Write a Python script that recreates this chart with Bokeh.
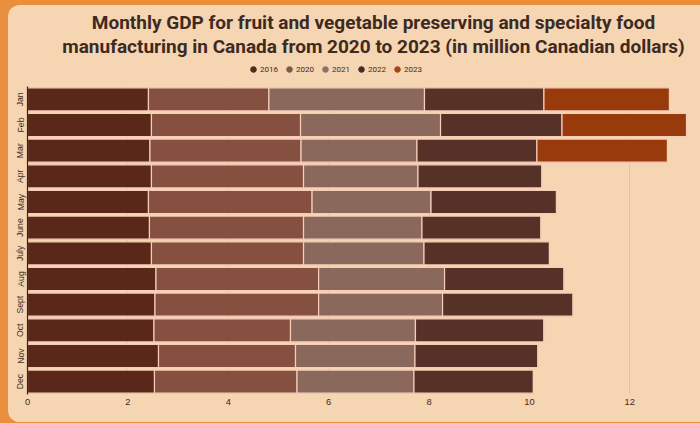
from bokeh.plotting import figure
from bokeh.models import FactorRange, Range1d, Legend, LegendItem, Label, FixedTicker
from bokeh.layouts import column
from bokeh.embed import file_html
from bokeh.resources import INLINE

months = ["Jan", "Feb", "Mar", "Apr", "May", "June", "July", "Aug", "Sept", "Oct", "Nov", "Dec"]
years = ["2016", "2020", "2021", "2022", "2023"]

v2016 = [2.41, 2.47, 2.44, 2.47, 2.41, 2.43, 2.47, 2.56, 2.54, 2.52, 2.61, 2.53]
v2020 = [2.40, 2.97, 3.01, 3.03, 3.26, 3.07, 3.03, 3.24, 3.26, 2.72, 2.73, 2.84]
v2021 = [3.10, 2.79, 2.31, 2.28, 2.37, 2.36, 2.40, 2.51, 2.47, 2.49, 2.38, 2.33]
v2022 = [2.38, 2.42, 2.39, 2.47, 2.50, 2.37, 2.50, 2.38, 2.60, 2.56, 2.45, 2.38]
v2023 = [2.50, 2.48, 2.60, 0, 0, 0, 0, 0, 0, 0, 0, 0]

title_lines = ["Monthly GDP for fruit and vegetable preserving and specialty food",
               "manufacturing in Canada from 2020 to 2023 (in million Canadian dollars)"]
x_ticks = [0, 2, 4, 6, 8, 10, 12]

colors = ["#5a2819", "#85503f", "#8a695c", "#553128", "#993a0c"]
legend_colors = ["#4f2a1c", "#7d5a4b", "#8c7369", "#432c2c", "#a3461b"]

data = {"month": months, "2016": v2016, "2020": v2020, "2021": v2021, "2022": v2022, "2023": v2023}

panel = "#f5d5b2"
ink = "#3d2a22"
title_font = "Roboto"

# ---- header (title + legend) ----
h = figure(width=692, height=81, x_range=Range1d(0, 1), y_range=Range1d(0, 1),
           x_axis_type=None, y_axis_type=None, output_backend="svg", toolbar_location=None,
           min_border=0, background_fill_color=panel, border_fill_color=panel,
           outline_line_color=None)
h.margin = 0

for txt, yy in zip(title_lines, [64, 40]):
    h.add_layout(Label(x=346, y=yy, x_units="screen", y_units="screen", text=txt,
                       text_align="center", text_baseline="middle", text_font=title_font,
                       text_font_size="19px", text_font_style="bold", text_color=ink))

items = []
for yr, c in zip(years, legend_colors):
    r = h.scatter(x=[-5], y=[-5], size=7, marker="circle", color=c)
    items.append(LegendItem(label=yr, renderers=[r]))
legend = Legend(items=items, orientation="horizontal", location=(219, 10),
                label_text_font_size="6pt", label_text_color=ink, label_text_font="Roboto",
                glyph_width=14, glyph_height=14, spacing=2, label_standoff=0,
                label_height=9, background_fill_alpha=0, border_line_color=None,
                padding=0, margin=0)
h.add_layout(legend, "center")

# ---- main chart ----
p = figure(width=692, height=336, y_range=FactorRange(factors=months[::-1], range_padding=0.0),
           x_range=Range1d(0, 13.27), output_backend="svg", toolbar_location=None,
           min_border_left=19, min_border_right=7, min_border_top=0, min_border_bottom=28,
           background_fill_color=panel, border_fill_color=panel, outline_line_color=None)
p.margin = 0

p.hbar_stack(years, y="month", height=0.9, source=data, color=colors,
             line_color="#f7cdb9", line_width=1.2)

p.xaxis.ticker = FixedTicker(ticks=x_ticks)
p.xaxis.axis_line_color = None
p.xaxis.major_tick_line_color = None
p.xaxis.major_tick_out = 0
p.xaxis.major_tick_in = 0
p.xaxis.minor_tick_line_color = None
p.xaxis.major_label_text_font_size = "7pt"
p.xaxis.major_label_text_color = ink
p.xaxis.major_label_standoff = 4

p.yaxis.axis_line_color = "#3a2418"
p.yaxis.axis_line_width = 1.2
p.yaxis.major_tick_line_color = None
p.yaxis.major_tick_out = 0
p.yaxis.major_tick_in = 0
p.yaxis.minor_tick_line_color = None
p.yaxis.major_label_orientation = "vertical"
p.yaxis.major_label_text_font_size = "6.5pt"
p.yaxis.major_label_text_color = ink
p.yaxis.major_label_standoff = 2

p.xgrid.grid_line_color = "#e6c19c"
p.xgrid.grid_line_width = 1
p.ygrid.grid_line_color = None

inner = column(h, p, spacing=0,
               styles={"background-color": panel, "border-radius": "12px 0 0 12px",
                       "overflow": "hidden"})
inner.margin = (5, 0, 1, 8)
layout = column(inner, spacing=0, styles={"background-color": "#e98f3e"})

open("out.html", "w").write(file_html(layout, INLINE))
